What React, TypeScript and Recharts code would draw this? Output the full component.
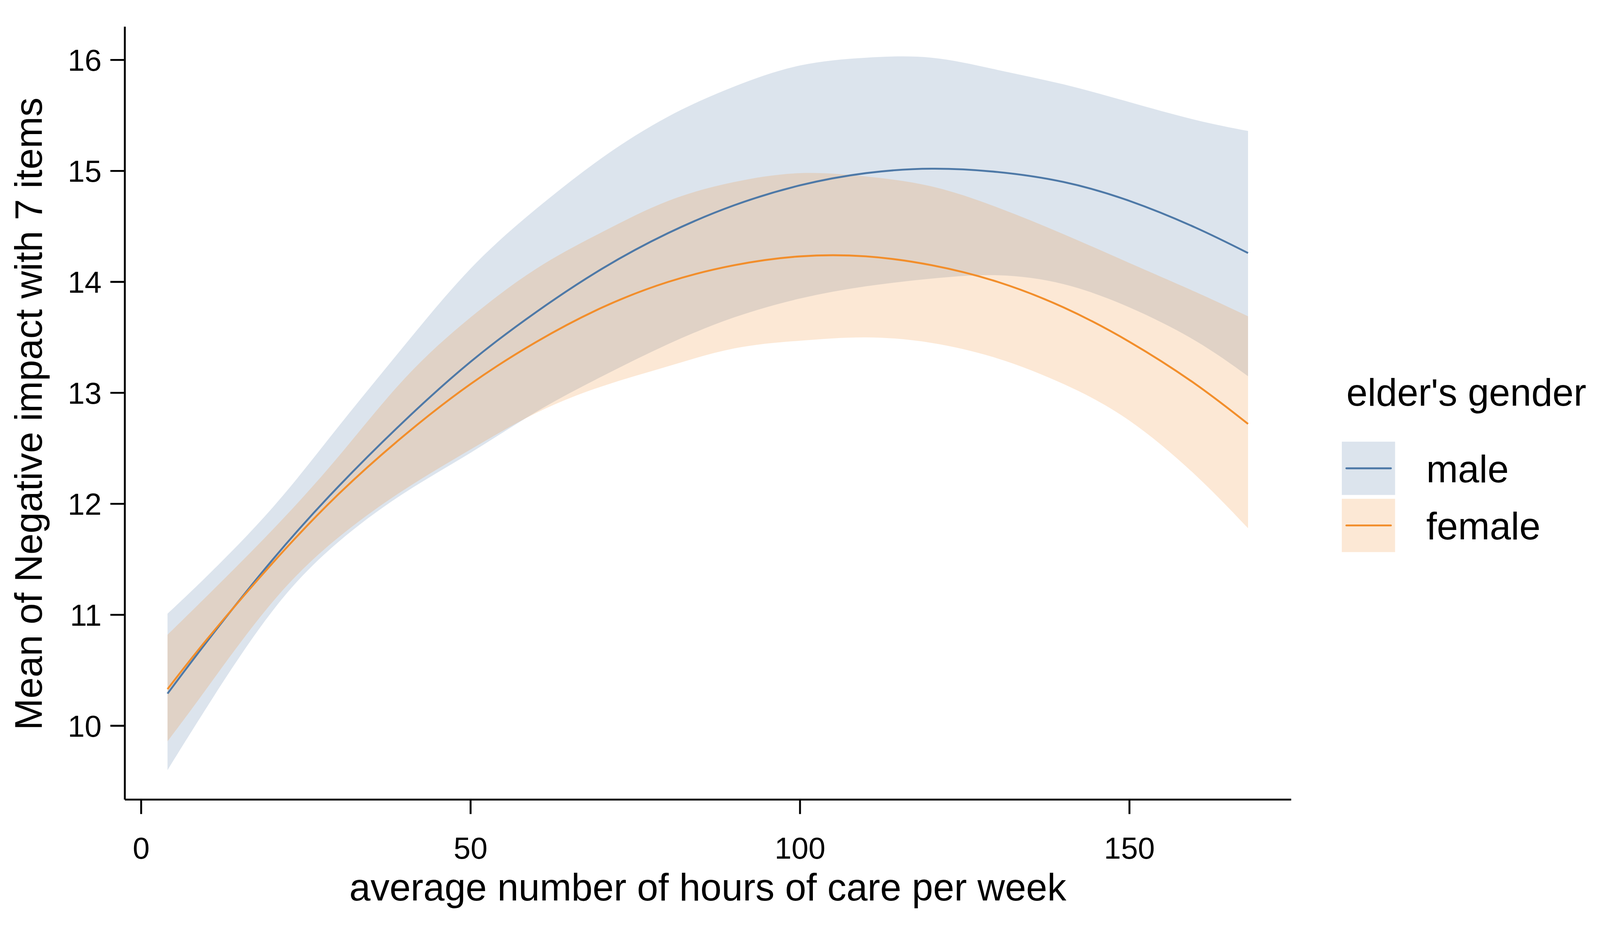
import React from "react";
import { Area, ComposedChart, Label, Line, XAxis, YAxis } from "recharts";

// hours of care per week (x)
const hours = [4, 10, 20, 30, 40, 50, 60, 70, 80, 90, 100, 110, 120, 130, 140, 150, 160, 168];

// fitted means
const maleFit = [10.29, 10.76, 11.5, 12.16, 12.75, 13.28, 13.73, 14.12, 14.44, 14.69, 14.87, 14.98, 15.02, 14.99, 14.9, 14.73, 14.49, 14.26];
const femaleFit = [10.33, 10.78, 11.47, 12.09, 12.62, 13.08, 13.46, 13.77, 14.0, 14.15, 14.23, 14.23, 14.15, 14.0, 13.77, 13.46, 13.08, 12.72];

// confidence bands
const maleLow = [9.6, 10.17, 11.04, 11.66, 12.1, 12.46, 12.83, 13.15, 13.44, 13.68, 13.85, 13.96, 14.03, 14.06, 13.98, 13.77, 13.47, 13.15];
const maleHigh = [11.01, 11.35, 11.97, 12.7, 13.43, 14.12, 14.66, 15.12, 15.49, 15.76, 15.95, 16.02, 16.02, 15.91, 15.78, 15.62, 15.46, 15.36];
const femaleLow = [9.86, 10.34, 11.12, 11.7, 12.13, 12.49, 12.82, 13.06, 13.24, 13.4, 13.47, 13.5, 13.45, 13.31, 13.08, 12.75, 12.26, 11.78];
const femaleHigh = [10.82, 11.17, 11.77, 12.43, 13.13, 13.68, 14.12, 14.45, 14.73, 14.9, 14.98, 14.95, 14.86, 14.67, 14.43, 14.17, 13.91, 13.69];

const xTicks = [0, 50, 100, 150];
const yTicks = [10, 11, 12, 13, 14, 15, 16];

const BLUE = "#4E79A7";
const ORANGE = "#F28E2B";
const FONT = "'Liberation Sans', Arial, Helvetica, sans-serif";
// the page comes out slightly enlarged in the photo, so draw a touch smaller
const FIT = 0.9742;

const rows = hours.map((h, i) => ({
  hours: h,
  male: maleFit[i],
  female: femaleFit[i],
  maleBand: [maleLow[i], maleHigh[i]],
  femaleBand: [femaleLow[i], femaleHigh[i]],
}));

const tickStyle = { fontSize: 80, fill: "#000", fontFamily: FONT };

function GenderLegend() {
  const keys = [
    { name: "male", color: BLUE, top: 1160 },
    { name: "female", color: ORANGE, top: 1310 },
  ];
  return (
    <svg width={700} height={520} style={{ position: "absolute", left: 3500, top: 950 }}>
      <text x={38} y={115} fontSize={100} fontFamily={FONT} fill="#000">
        elder's gender
      </text>
      {keys.map((k) => (
        <g key={k.name}>
          <rect x={26} y={k.top - 950} width={140} height={140} fill={k.color} fillOpacity={0.2} />
          <line x1={38} x2={155} y1={k.top - 950 + 70} y2={k.top - 950 + 70} stroke={k.color} strokeWidth={5} strokeLinecap="round" />
          <text x={248} y={k.top - 950 + 107} fontSize={100} fontFamily={FONT} fill="#000">
            {k.name}
          </text>
        </g>
      ))}
    </svg>
  );
}

export default function App() {
  return (
    <div
      style={{
        position: "absolute",
        left: 0,
        top: 0,
        width: 4200,
        height: 2400,
        background: "#fff",
        transform: `scale(${FIT})`,
        transformOrigin: "0 0",
      }}
    >
      <ComposedChart
        width={4200}
        height={2400}
        data={rows}
        margin={{ top: 70, right: 807, bottom: 100, left: 78 }}
      >
        <XAxis
          dataKey="hours"
          type="number"
          domain={[-2.48, 174.55]}
          ticks={xTicks}
          allowDataOverflow
          height={200}
          tick={tickStyle}
          tickSize={38}
          tickMargin={60}
          axisLine={{ stroke: "#000", strokeWidth: 5 }}
          tickLine={{ stroke: "#000", strokeWidth: 5 }}
        >
          <Label
            content={() => (
              <text x={1860} y={2365} textAnchor="middle" fontSize={100} fontFamily={FONT} fill="#000">
                average number of hours of care per week
              </text>
            )}
          />
        </XAxis>
        <YAxis
          type="number"
          domain={[9.335, 16.3]}
          ticks={yTicks}
          allowDataOverflow
          width={250}
          tick={tickStyle}
          tickSize={38}
          tickMargin={23}
          axisLine={{ stroke: "#000", strokeWidth: 5 }}
          tickLine={{ stroke: "#000", strokeWidth: 5 }}
        >
          <Label
            content={() => (
              <text
                x={110}
                y={1087}
                textAnchor="middle"
                fontSize={100}
                fontFamily={FONT}
                fill="#000"
                transform="rotate(-90, 110, 1087)"
              >
                Mean of Negative impact with 7 items
              </text>
            )}
          />
        </YAxis>
        <Area
          dataKey="maleBand"
          type="natural"
          stroke="none"
          fill={BLUE}
          fillOpacity={0.2}
          activeDot={false}
          isAnimationActive={false}
        />
        <Line dataKey="male" type="natural" stroke={BLUE} strokeWidth={5} dot={false} activeDot={false} isAnimationActive={false} />
        <Area
          dataKey="femaleBand"
          type="natural"
          stroke="none"
          fill={ORANGE}
          fillOpacity={0.2}
          activeDot={false}
          isAnimationActive={false}
        />
        <Line dataKey="female" type="natural" stroke={ORANGE} strokeWidth={5} dot={false} activeDot={false} isAnimationActive={false} />
      </ComposedChart>
      <GenderLegend />
    </div>
  );
}
